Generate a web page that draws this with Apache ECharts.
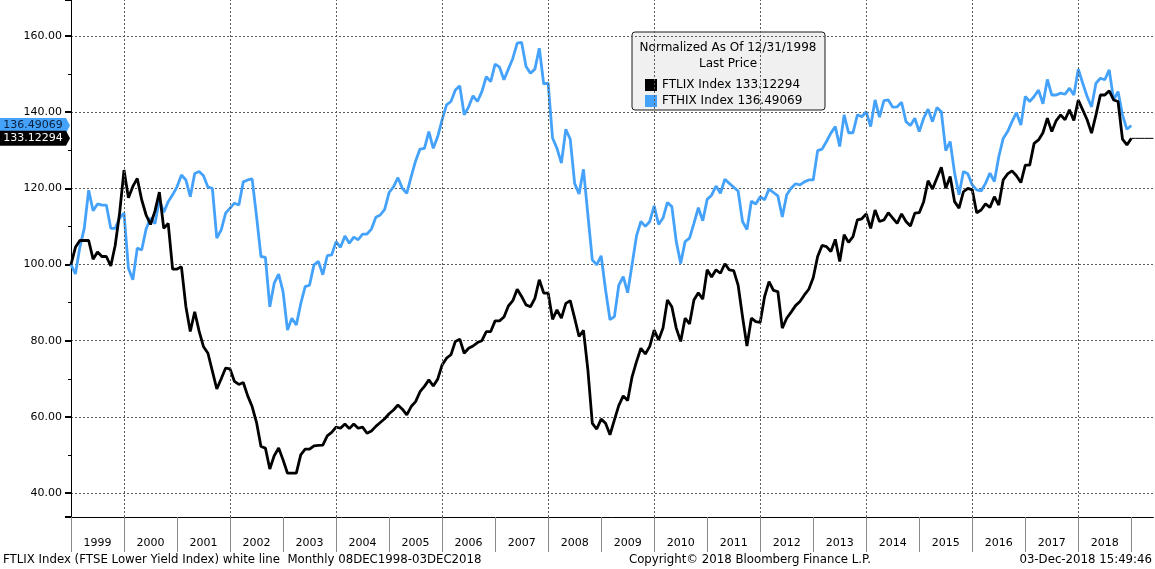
<!DOCTYPE html>
<html>
<head>
    <title>FTLIX vs FTHIX</title>
    <meta charset="utf-8">
    <script type="text/javascript" src="https://cdn.jsdelivr.net/npm/echarts@6.0.0/dist/echarts.min.js"></script>
    <style>
        html, body { margin: 0; padding: 0; background: #fff; }
        #main { width: 1155px; height: 569px; }
    </style>
</head>
<body>
    <div id="main"></div>
    <script type="text/javascript">
        // monthly closes, Dec 1998 first, then one row per calendar year 1999..2018
        const ftlix = [100,
            104.5, 106.3, 106.3, 106.3, 101.4, 103.3, 102.1, 102.1, 99.6, 105, 113.5, 124.8,
            117.5, 120.5, 122.6, 117, 113, 110.5, 114, 119, 109.5, 110.8, 98.8, 98.8,
            99.4, 89, 82.4, 87.6, 82.5, 78.4, 76.7, 72, 67.3, 70, 72.8, 72.6,
            69.3, 68.5, 69, 65.5, 62.7, 58.5, 52.2, 51.8, 46.3, 49.8, 51.8, 48.7,
            45.2, 45.2, 45.2, 50, 51.5, 51.5, 52.4, 52.5, 52.6, 55.0, 55.9, 57.3,
            57.0, 58.1, 56.9, 58.1, 57.0, 57.3, 55.7, 56.3, 57.5, 58.5, 59.5, 60.8,
            61.8, 63.1, 62.0, 60.5, 62.7, 64.0, 66.6, 68.0, 69.7, 68.1, 69.9, 73.6,
            75.4, 76.3, 79.8, 80.4, 76.7, 78.0, 78.6, 79.5, 80.0, 82.4, 82.4, 85.2,
            85.2, 86.2, 89.1, 90.5, 93.5, 91.6, 89.4, 88.9, 91.1, 96.0, 92.5, 92.5,
            85.6, 88.1, 85.9, 89.8, 90.5, 85.9, 81.1, 82.7, 72.3, 58.3, 56.8, 59.4,
            58.3, 55.3, 59.2, 63, 65.5, 64.3, 70.5, 74.5, 78.0, 76.5, 78.5, 82.8,
            80.2, 83.3, 90.7, 88.9, 83.3, 79.8, 85.9, 84.4, 90.7, 92.6, 90.9, 98.6,
            96.7, 98.6, 97.7, 100.2, 98.6, 98.4, 94.6, 86.3, 78.6, 85.9, 85.0, 84.8,
            91.6, 95.5, 93.2, 92.9, 83.3, 85.9, 87.5, 89.2, 90.3, 92.0, 93.5, 96.5,
            102.1, 105.0, 104.7, 103.4, 106.6, 100.8, 107.8, 105.8, 107.3, 111.7, 112.0, 113.3,
            109.5, 114.3, 111.3, 111.7, 113.6, 112.2, 110.8, 113.3, 111.3, 110.1, 113.5, 113.6,
            116.5, 122.0, 119.8, 122.7, 125.5, 120.0, 123.1, 116.5, 114.8, 119.1, 120.0, 119.6,
            113.6, 114.3, 115.9, 115.0, 117.8, 115.6, 122.2, 123.8, 124.6, 123.3, 121.5, 126.1,
            126.1, 131.8, 132.7, 134.6, 138.4, 134.9, 137.8, 139.3, 138.0, 140.6, 137.8, 143.2,
            140.6, 138.0, 134.5, 139.3, 144.5, 144.5, 145.6, 143.2, 142.8, 132.9, 131.4, 133.12294
        ];
        const fthix = [100,
            97.5, 104.5, 109.5, 119.5, 114.1, 115.9, 115.6, 115.6, 109.5, 109.5, 112.2, 113.5,
            99.0, 96.0, 104.3, 103.8, 109.3, 112.2, 110.7, 117.0, 113.7, 116.5, 118.3, 120.4,
            123.5, 122.2, 117.8, 123.9, 124.4, 123.3, 120.3, 120.0, 106.9, 109.1, 113.5, 114.8,
            116.1, 115.6, 121.7, 122.2, 122.5, 112.6, 102.1, 101.9, 88.9, 95.1, 97.5, 92.9,
            82.8, 85.9, 84.1, 89.7, 94.2, 94.6, 99.9, 100.8, 97.3, 102.3, 102.5, 106.0,
            104.5, 107.5, 105.6, 107.2, 106.5, 108.0, 108.0, 109.3, 112.4, 113.0, 114.5, 118.9,
            120.4, 122.8, 120.0, 118.7, 123.1, 127.2, 130.3, 130.5, 134.9, 130.5, 133.6, 138.0,
            141.9, 142.8, 145.8, 146.9, 139.3, 141.4, 144.3, 142.8, 145.4, 149.3, 148.0, 152.6,
            151.8, 148.5, 151.3, 154.1, 158.1, 158.3, 152.0, 150.2, 151.3, 156.8, 147.4, 147.6,
            133.2, 130.5, 126.6, 135.5, 132.9, 121.3, 118.5, 125.0, 113.0, 101.2, 99.9, 102.3,
            93.3, 85.5, 86.3, 94.6, 96.8, 92.6, 100, 107.5, 111.3, 110.0, 111.3, 115.4,
            110.5, 112.2, 116.3, 115.2, 106.0, 100.3, 106.0, 106.9, 110.8, 114.9, 111.5, 117.1,
            118.2, 120.6, 118.7, 122.4, 121.3, 120.3, 119.3, 111.3, 109.2, 116.6, 115.9, 117.8,
            117.0, 119.8, 118.9, 118.0, 112.5, 118.3, 120.0, 121.2, 120.9, 121.7, 122.2, 122.2,
            129.9, 130.3, 132.3, 134.5, 136.2, 131.0, 139.3, 134.6, 134.6, 139.3, 138.8, 140.1,
            136.2, 143.2, 138.7, 143.0, 143.2, 141.3, 141.4, 142.6, 137.5, 136.5, 138.4, 134.9,
            138.4, 140.8, 137.5, 141.2, 140.1, 129.9, 132.3, 124.0, 118.3, 124.4, 123.8, 120.9,
            119.6, 119.3, 121.3, 124.0, 121.8, 128.3, 133.1, 134.9, 137.5, 139.9, 136.6, 144.1,
            142.8, 144.1, 145.8, 142.2, 148.6, 144.5, 144.5, 145.0, 144.7, 146.3, 144.5, 151.3,
            147.6, 144.1, 141.4, 147.6, 148.9, 148.5, 151.1, 143.2, 145.4, 139.3, 135.5, 136.49069
        ];
        const years = ['1999', '2000', '2001', '2002', '2003', '2004', '2005', '2006', '2007', '2008',
            '2009', '2010', '2011', '2012', '2013', '2014', '2015', '2016', '2017', '2018'];
        const seriesNames = ['FTLIX Index', 'FTHIX Index'];
        const headerLines = ['Normalized As Of 12/31/1998', 'Last Price'];
        const footerLeft = 'FTLIX Index (FTSE Lower Yield Index) white line  Monthly 08DEC1998-03DEC2018';
        const footerMid = 'Copyright\u00a9 2018 Bloomberg Finance L.P.';
        const footerRight = '03-Dec-2018 15:49:46';

        const BLUE = '#44a2fb';
        const FONT = '"DejaVu Sans", "Liberation Sans", sans-serif';
        const EXTRA = 5; // empty months right of the last point

        // month slots Dec 1998 .. plus a few past the last print
        const months = [];
        for (let i = 0; i < ftlix.length + EXTRA; i++) {
            const m = (11 + i) % 12, y = 1998 + Math.floor((11 + i) / 12);
            months.push(y + '-' + String(m + 1).padStart(2, '0'));
        }
        const last = ftlix.length - 1;
        const lastLine = months.map((m, i) => i >= last ? ftlix[last] : null);
        // vertical grid every second year (at the Dec of each odd year = start of even year)
        const gridMonths = months.filter((m, i) => i % 24 === 12 && i <= last);

        const dotted = { color: '#5a5a5a', width: 1, type: [2, 2] };

        const chart = echarts.init(document.getElementById('main'));
        const baseGraphic = [
            { type: 'rect', z: -1, shape: { x: 632, y: 32, width: 193, height: 78, r: 3 },
              style: { fill: '#f0f0f0', stroke: '#1a1a1a', lineWidth: 1 } },
            { type: 'text', x: 728, y: 48, style: { text: headerLines[0], fontFamily: FONT, fontSize: 12, fill: '#000', align: 'center', verticalAlign: 'middle' } },
            { type: 'text', x: 728, y: 64, style: { text: headerLines[1], fontFamily: FONT, fontSize: 12, fill: '#000', align: 'center', verticalAlign: 'middle' } },
            { type: 'text', x: 3, y: 560, style: { text: footerLeft, fontFamily: FONT, fontSize: 11.75, fill: '#000', align: 'left', verticalAlign: 'middle' } },
            { type: 'text', x: 750, y: 560, style: { text: footerMid, fontFamily: FONT, fontSize: 11.75, fill: '#000', align: 'center', verticalAlign: 'middle' } },
            { type: 'text', x: 1152, y: 560, style: { text: footerRight, fontFamily: FONT, fontSize: 11.75, fill: '#000', align: 'right', verticalAlign: 'middle' } }
        ];

        chart.setOption({
            animation: false,
            backgroundColor: '#fff',
            grid: { left: 71, right: 1.6, top: 0, bottom: 52, containLabel: false },
            legend: {
                data: seriesNames,
                orient: 'vertical',
                left: 640, top: 74,
                icon: 'rect', itemWidth: 12, itemHeight: 12, itemGap: 4,
                selectedMode: false,
                textStyle: { fontFamily: FONT, fontSize: 12, color: '#000', lineHeight: 12 },
                formatter: name => name + ' ' + (name === seriesNames[0] ? ftlix[last] : fthix[last]).toFixed(5)
            },
            xAxis: {
                type: 'category',
                data: months,
                boundaryGap: false,
                axisLine: { lineStyle: { color: '#000', width: 1 } },
                axisTick: {
                    interval: i => i % 12 === 0 && i <= last,
                    length: 35,
                    lineStyle: { color: '#8a8a8a' }
                },
                axisLabel: {
                    interval: i => i % 12 === 6 && i < last,
                    formatter: (v, i) => years[(i - 6) / 12],
                    margin: 21,
                    fontFamily: FONT, fontSize: 11, color: '#000'
                },
                splitLine: { show: false }
            },
            yAxis: {
                type: 'value',
                min: 33.7, max: 169.45,
                splitNumber: 7,
                axisLine: { show: true, lineStyle: { color: '#000', width: 1 } },
                axisTick: { show: true, length: 6, lineStyle: { color: '#000', width: 2 } },
                minorTick: { show: true, splitNumber: 2, length: 3, lineStyle: { color: '#000' } },
                axisLabel: {
                    showMinLabel: false, showMaxLabel: false,
                    formatter: v => v.toFixed(2),
                    margin: 9,
                    fontFamily: FONT, fontSize: 11, color: '#000'
                },
                splitLine: { show: true, showMinLine: false, showMaxLine: false, lineStyle: dotted }
            },
            series: [
                { name: 'grid', type: 'line', data: [], z: 1, silent: true,
                  markLine: { silent: true, symbol: 'none', label: { show: false }, lineStyle: dotted,
                              emphasis: { disabled: true },
                              data: gridMonths.map(m => ({ xAxis: m })) } },
                { name: seriesNames[1], type: 'line', data: fthix, showSymbol: false, z: 2,
                  color: BLUE, lineStyle: { color: BLUE, width: 2.8 } },
                { name: seriesNames[0], type: 'line', data: ftlix, showSymbol: false, z: 3,
                  color: '#000', lineStyle: { color: '#000', width: 2.8 } },
                { name: 'last', type: 'line', data: lastLine, showSymbol: false, silent: true, z: 3,
                  lineStyle: { color: '#000', width: 1 } }
            ],
            graphic: baseGraphic
        });

        // last-price tags on the y axis, placed through the axis scale
        function tag(value, fill, textColor) {
            const y = chart.convertToPixel({ yAxisIndex: 0 }, value);
            return {
                type: 'group', x: 0, y: y, z: 10,
                children: [
                    { type: 'polygon', shape: { points: [[0, -7.5], [66, -7.5], [70, 0], [66, 7.5], [0, 7.5]] }, style: { fill: fill } },
                    { type: 'text', x: 33, y: 0, style: { text: value.toFixed(5), fontFamily: FONT, fontSize: 11, fill: textColor, align: 'center', verticalAlign: 'middle' } }
                ]
            };
        }
        chart.setOption({
            graphic: baseGraphic.concat([tag(fthix[last], BLUE, '#0a1f3c'), tag(ftlix[last], '#000', '#fff')])
        });
    </script>
</body>
</html>
